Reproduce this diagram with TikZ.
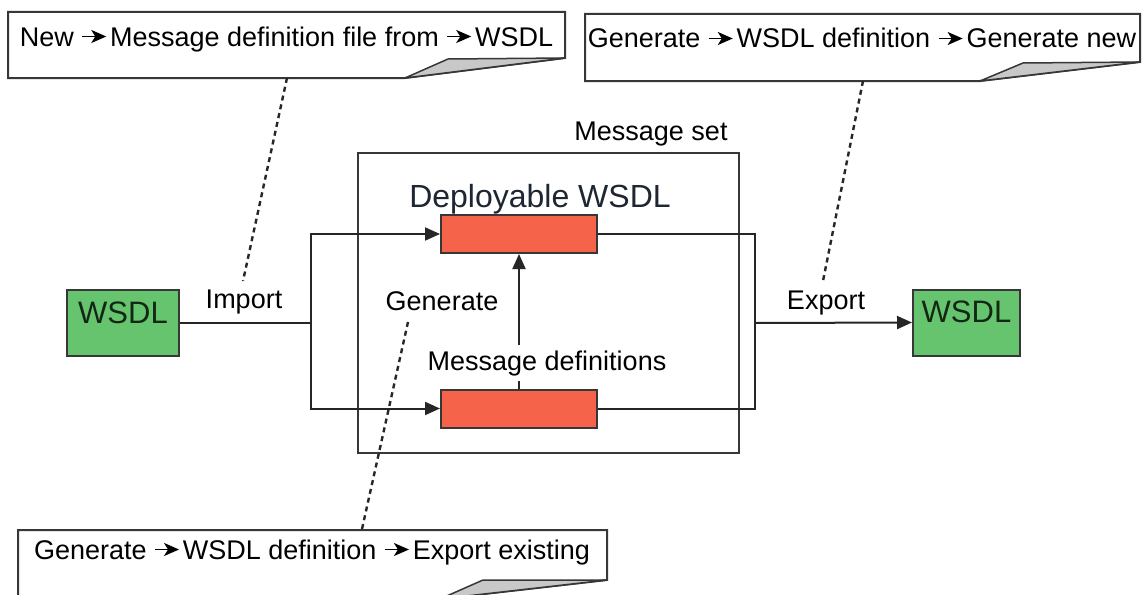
\documentclass[tikz,border=0pt]{standalone}
\usepackage{fontspec}
\setmainfont{Liberation Sans}
\usetikzlibrary{arrows.meta,calc}
\definecolor{wgreen}{RGB}{102,196,110}
\definecolor{wred}{RGB}{244,99,74}
\definecolor{edgec}{RGB}{55,55,55}
\definecolor{flapgray}{RGB}{200,200,200}
\definecolor{deep}{RGB}{30,38,50}
\definecolor{wtext}{RGB}{18,40,20}
\newcommand{\harr}{\tikz[baseline={(0pt,-9.5pt)},x=1pt,y=1pt]{\draw[line width=1.8pt,-{Stealth[length=15pt,width=13pt,inset=4pt]}] (0,0) -- (24,0);}\kern3pt}
\newcommand{\fsn}{\fontsize{27}{32}\selectfont}
\newcommand{\fsb}{\fontsize{32}{37}\selectfont}
\tikzset{
  boxc/.style={draw=edgec, line width=2pt},
  wsdl/.style={boxc, fill=wgreen, minimum width=112pt, minimum height=66pt, font=\fontsize{31}{36}\selectfont, text height=22pt, text depth=22pt, inner sep=0pt, text=wtext},
  redbox/.style={boxc, fill=wred, minimum width=156pt, minimum height=38pt, inner sep=0pt},
  lbl/.style={anchor=base, inner sep=0pt},
  conn/.style={draw=black!85, line width=2pt},
  arr/.style={conn, -{Triangle[length=15pt,width=13pt]}},
  callline/.style={draw=black!85, line width=2.4pt, dash pattern=on 5pt off 4pt},
  callout/.style={draw=edgec, line width=2pt, fill=white, line join=miter},
  flap/.style={draw=edgec, line width=1.5pt, fill=flapgray, line join=round}
}
\begin{document}
\begin{tikzpicture}[x=1pt, y=-1pt, font=\fsn]
\useasboundingbox (0,0) rectangle (1147,594);
\clip (0,0) rectangle (1147,594);
\fill[white] (0,0) rectangle (1147,594);

% message set container
\node[draw=edgec, line width=2.5pt, minimum width=381pt, minimum height=300pt, inner sep=0pt] (ms) at (548.5,303) {};
\node[lbl] (mslbl) at (651,140) {Message set};

% boxes
\node[wsdl] (lw) at (123,323) {WSDL};
\node[wsdl, minimum width=107pt] (rw) at (966.5,322.5) {WSDL};
\node[redbox] (rt) at (519,234) {};
\node[redbox] (rb) at (519,408.5) {};
\node[lbl, font=\fsb, text=deep] (dep) at (540,207) {Deployable WSDL};

% connectors
\coordinate (jl) at (311,323);
\coordinate (jr) at (755,323);
\draw[conn] (lw.east) -- (jl);
\draw[arr] (jl) |- (rt.west);
\draw[arr] (jl) |- (rb.west);
\draw[conn] (rt.east) -| (jr);
\draw[conn] (rb.east) -| (jr);
\draw[arr] (jr) -- (rw.west);
\draw[arr] (rb.north) -- (rt.south);

% labels
\node[lbl] (imp) at (244,308) {Import};
\node[lbl] (exp) at (826,309) {Export};
\node[lbl] (gen) at (442,310) {Generate};
\node[lbl, fill=white, inner ysep=5pt] (mdef) at (547,370) {Message definitions};

% callouts
\filldraw[callout] (8,12) -- (565,12) -- (565,58) -- (405,78) -- (8,78) -- cycle;
\filldraw[flap] (405,78) -- (448,59) -- (565,58) -- cycle;
\node[lbl] (c1) at (286.5,46) {New \harr Message definition file from \harr WSDL};

\filldraw[callout] (585,14) -- (1140,14) -- (1140,62) -- (980,81) -- (585,81) -- cycle;
\filldraw[flap] (980,81) -- (1023,63) -- (1140,62) -- cycle;
\node[lbl] (c2) at (862,48) {Generate \harr WSDL definition \harr Generate new};

\filldraw[callout] (18,530) -- (607,530) -- (607,580) -- (440,599) -- (18,599) -- cycle;
\filldraw[flap] (440,599) -- (483,580) -- (607,580) -- cycle;
\node[lbl] (c3) at (312,559) {Generate \harr WSDL definition \harr Export existing};

% callout pointers
\coordinate (d1a) at (287,78);
\coordinate (d1b) at (243,281);
\coordinate (d2a) at (863,81);
\coordinate (d2b) at (823,281);
\coordinate (d3a) at (408,322);
\coordinate (d3b) at (362,529);
\draw[callline] (d1a) -- (d1b);
\draw[callline] (d2a) -- (d2b);
\draw[callline] (d3a) -- (d3b);
\end{tikzpicture}
\end{document}
